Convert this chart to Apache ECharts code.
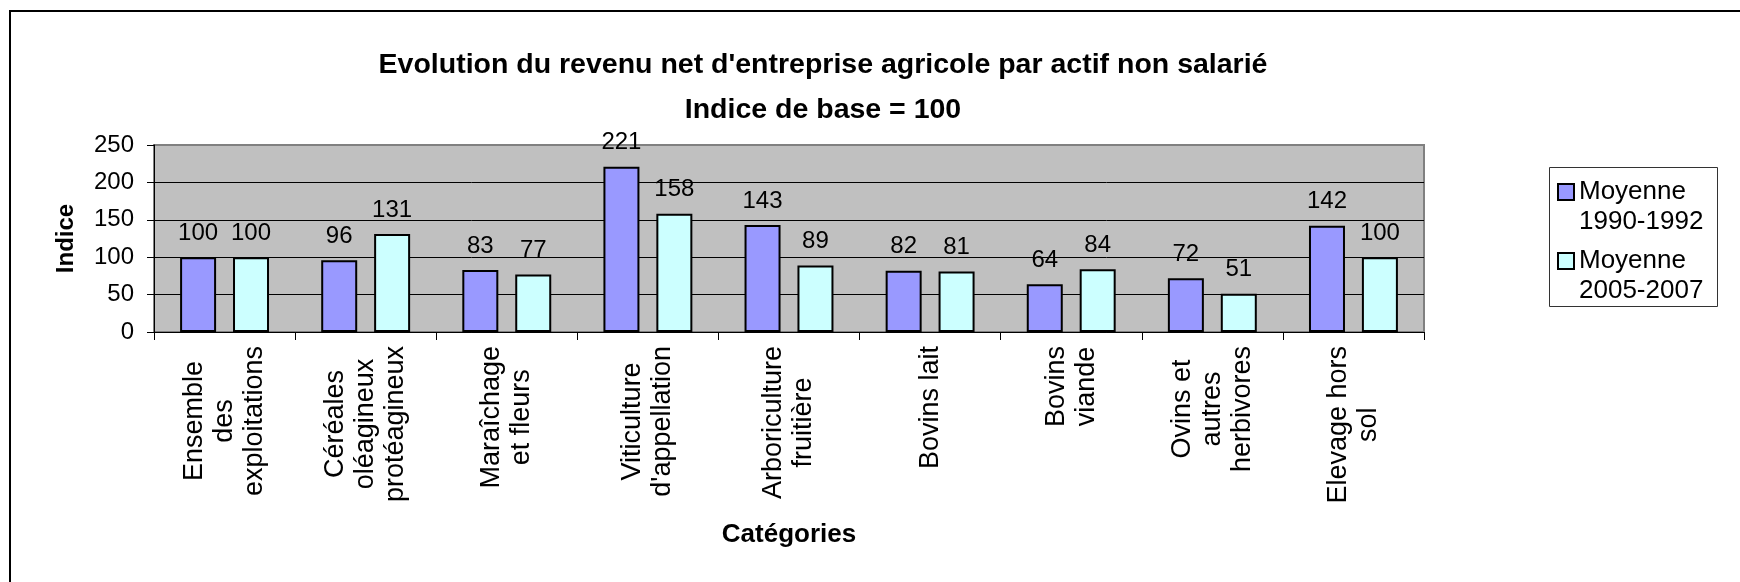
<!DOCTYPE html>
<html>
<head>
<meta charset="utf-8">
<script src="https://cdn.jsdelivr.net/npm/echarts@6/dist/echarts.min.js"></script>
<style>
    html, body { margin: 0; padding: 0; background: #fff; }
    #chart { width: 1740px; height: 582px; }
</style>
</head>
<body>
<div id="chart"></div>
<script>
    var categories = [
        'Ensemble\ndes\nexploitations',
        'Céréales\noléagineux\nprotéagineux',
        'Maraîchage\net fleurs',
        "Viticulture\nd'appellation",
        'Arboriculture\nfruitière',
        'Bovins lait',
        'Bovins\nviande',
        'Ovins et\nautres\nherbivores',
        'Elevage hors\nsol'
    ];
    var moyenne1990 = [100, 96, 83, 221, 143, 82, 64, 72, 142];
    var moyenne2005 = [100, 131, 77, 158, 89, 81, 84, 51, 100];
    var seriesNames = ['Moyenne\n1990-1992', 'Moyenne\n2005-2007'];

    var font = 'Liberation Sans, Arial, sans-serif';
    var myChart = echarts.init(document.getElementById('chart'));

    var barLabel = {
        show: true,
        position: 'top',
        distance: 12,
        color: '#000',
        fontSize: 24
    };

    var option = {
        animation: false,
        textStyle: { fontFamily: font },
        title: {
            text: "Evolution du revenu net d'entreprise agricole par actif non salarié\nIndice de base = 100",
            left: 818,
            top: 38,
            textAlign: 'center',
            textStyle: { fontSize: 28.5, fontWeight: 'bold', color: '#000', lineHeight: 45 }
        },
        graphic: [
            // cadre du graphique (bords droit et bas hors de l'image)
            { type: 'rect', shape: { x: 10, y: 11, width: 1780, height: 620 },
              style: { fill: 'none', stroke: '#000', lineWidth: 2 } },
            // cadre de la légende
            { type: 'rect', shape: { x: 1549.5, y: 167.5, width: 168, height: 139 },
              style: { fill: '#fff', stroke: '#333', lineWidth: 1 } }
        ],
        legend: {
            orient: 'vertical',
            left: 1557,
            top: 147,
            padding: 0,
            itemGap: -21,
            itemWidth: 16,
            itemHeight: 16,
            icon: 'rect',
            selectedMode: false,
            // ligne vide en tête : le carré s'aligne sur la première ligne du texte
            formatter: function (name) { return ' \n' + name; },
            itemStyle: { borderColor: '#000', borderWidth: 2 },
            textStyle: { fontSize: 26, lineHeight: 30, color: '#000' }
        },
        grid: {
            left: 154,
            right: 316,
            top: 145,
            bottom: 250,
            show: true,
            backgroundColor: '#C0C0C0',
            borderColor: '#808080',
            borderWidth: 2
        },
        xAxis: {
            type: 'category',
            data: categories,
            name: 'Catégories',
            nameLocation: 'middle',
            nameGap: 190,
            nameTextStyle: { fontSize: 26, fontWeight: 'bold', color: '#000' },
            axisLine: { lineStyle: { color: '#000', width: 1 } },
            axisTick: { show: true, length: 8, lineStyle: { color: '#000' } },
            axisLabel: {
                rotate: 90,
                margin: 14,
                interval: 0,
                color: '#000',
                fontSize: 27,
                formatter: function (v) {
                    return v.split('\n').map(function (l) { return '{c|' + l + '}'; }).join('\n');
                },
                rich: { c: { align: 'center', fontSize: 27, lineHeight: 30, color: '#000' } }
            }
        },
        yAxis: {
            type: 'value',
            min: 0,
            max: 250,
            interval: 50,
            name: 'Indice',
            nameLocation: 'middle',
            nameGap: 76,
            nameTextStyle: { fontSize: 24, fontWeight: 'bold', color: '#000' },
            axisLine: { show: true, lineStyle: { color: '#000', width: 1 } },
            axisTick: { show: true, length: 7, lineStyle: { color: '#000' } },
            axisLabel: { margin: 20, color: '#000', fontSize: 24 },
            splitLine: { lineStyle: { color: ['#000', '#000', '#000', '#000', '#000', '#808080'], width: 1 } }
        },
        series: [
            {
                name: seriesNames[0],
                type: 'bar',
                data: moyenne1990,
                barWidth: 36,
                barGap: '47%',
                itemStyle: { color: '#9999FF', borderColor: '#000', borderWidth: 2 },
                label: barLabel
            },
            {
                name: seriesNames[1],
                type: 'bar',
                data: moyenne2005,
                barWidth: 36,
                itemStyle: { color: '#CCFFFF', borderColor: '#000', borderWidth: 2 },
                label: barLabel
            }
        ]
    };
    myChart.setOption(option);
</script>
</body>
</html>
